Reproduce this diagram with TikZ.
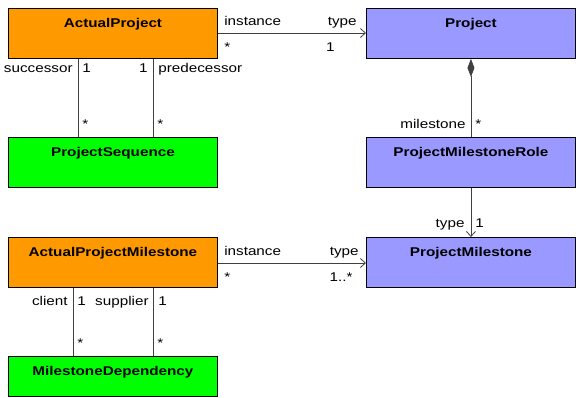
\documentclass[tikz,border=0pt]{standalone}
\usepackage{fontspec}
\setmainfont[FakeStretch=1.2]{Liberation Sans}
\usetikzlibrary{arrows.meta}
\definecolor{actualorange}{RGB}{255,153,0}
\definecolor{metablue}{RGB}{153,153,255}
\definecolor{linkgreen}{RGB}{0,255,0}
\definecolor{wiregray}{RGB}{64,64,64}

\begin{document}
\begin{tikzpicture}[
        x=1pt, y=-1pt,
        % Стиль для классов: рамка, заливка, заголовок сверху
        umlclass/.style={
            draw=black, line width=0.9pt,
            anchor=north west,
            minimum width=209pt,
            inner sep=0pt,
            text height=19pt, text depth=31pt,
            font=\bfseries\fontsize{12.7}{14}\selectfont
        },
        actual/.style={umlclass, fill=actualorange},
        meta/.style={umlclass, fill=metablue},
        link/.style={umlclass, fill=linkgreen},
        % Стиль для связей
        wire/.style={draw=wiregray, line width=0.8pt},
        navi/.style={wire, -{Straight Barb[length=5pt,width=9pt]}},
        comp/.style={wire, {Diamond[length=18pt,width=7pt]}-},
        % Стиль для подписей на концах связей
        role/.style={
            inner sep=0pt,
            font=\fontsize{12.7}{14}\selectfont
        }
    ]
        \useasboundingbox (0,0) rectangle (576,397);

        % Классы
        \node[actual] (ap) at (8,8) {ActualProject};
        \node[meta] (pr) at (366,8) {Project};
        \node[link] (ps) at (8,137) {ProjectSequence};
        \node[meta] (pmr) at (366,137) {ProjectMilestoneRole};
        \node[actual] (apm) at (8,237) {ActualProjectMilestone};
        \node[meta] (pm) at (366,237) {ProjectMilestone};
        \node[link, text depth=21pt] (md) at (8,356) {MilestoneDependency};

        % ActualProject -> Project
        \draw[navi] ([yshift=-25pt]ap.north east) -- ([yshift=-25pt]pr.north west)
            node[role, pos=0, anchor=base west, xshift=6pt, yshift=8pt] {instance}
            node[role, pos=0, anchor=base west, xshift=6pt, yshift=-18pt] {*}
            node[role, pos=1, anchor=base east, xshift=-9pt, yshift=8pt] {type}
            node[role, pos=1, anchor=base east, xshift=-31pt, yshift=-18pt] {1};

        % ActualProject -- ProjectSequence
        \draw[wire] ([xshift=70pt]ap.south west) -- ([xshift=70pt]ps.north west)
            node[role, pos=0, anchor=base east, xshift=-5pt, yshift=-14pt] {successor}
            node[role, pos=0, anchor=base west, xshift=4pt, yshift=-14pt] {1}
            node[role, pos=1, anchor=base west, xshift=4pt, yshift=9pt] {*};
        \draw[wire] ([xshift=145pt]ap.south west) -- ([xshift=145pt]ps.north west)
            node[role, pos=0, anchor=base east, xshift=-5pt, yshift=-14pt] {1}
            node[role, pos=0, anchor=base west, xshift=5pt, yshift=-14pt] {predecessor}
            node[role, pos=1, anchor=base west, xshift=4pt, yshift=9pt] {*};

        % Project <>-- ProjectMilestoneRole
        \draw[comp] (pr.south) -- (pmr.north)
            node[role, pos=1, anchor=base east, xshift=-5pt, yshift=9pt] {milestone}
            node[role, pos=1, anchor=base west, xshift=4pt, yshift=9pt] {*};

        % ProjectMilestoneRole -> ProjectMilestone
        \draw[navi] (pmr.south) -- (pm.north)
            node[role, pos=1, anchor=base east, xshift=-6pt, yshift=10pt] {type}
            node[role, pos=1, anchor=base west, xshift=4pt, yshift=10pt] {1};

        % ActualProjectMilestone -> ProjectMilestone
        \draw[navi] ([yshift=-26pt]apm.north east) -- ([yshift=-26pt]pm.north west)
            node[role, pos=0, anchor=base west, xshift=6pt, yshift=8pt] {instance}
            node[role, pos=0, anchor=base west, xshift=6pt, yshift=-18pt] {*}
            node[role, pos=1, anchor=base east, xshift=-7pt, yshift=8pt] {type}
            node[role, pos=1, anchor=base east, xshift=-13pt, yshift=-18pt] {1..*};

        % ActualProjectMilestone -- MilestoneDependency
        \draw[wire] ([xshift=65pt]apm.south west) -- ([xshift=65pt]md.north west)
            node[role, pos=0, anchor=base east, xshift=-5pt, yshift=-18pt] {client}
            node[role, pos=0, anchor=base west, xshift=4pt, yshift=-18pt] {1}
            node[role, pos=1, anchor=base west, xshift=4pt, yshift=9pt] {*};
        \draw[wire] ([xshift=145pt]apm.south west) -- ([xshift=145pt]md.north west)
            node[role, pos=0, anchor=base east, xshift=-4pt, yshift=-18pt] {supplier}
            node[role, pos=0, anchor=base west, xshift=5pt, yshift=-18pt] {1}
            node[role, pos=1, anchor=base west, xshift=4pt, yshift=9pt] {*};

    \end{tikzpicture}
\end{document}
